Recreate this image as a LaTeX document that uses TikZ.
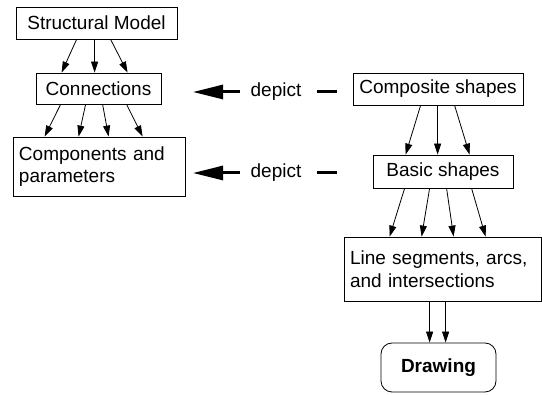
\documentclass[tikz,border=0pt]{standalone}
\usepackage{fontspec}
\setmainfont{Liberation Sans}
\usetikzlibrary{arrows.meta}
\begin{document}
\begin{tikzpicture}[x=1pt,y=-1pt,
  box/.style={draw,line width=0.8pt,inner sep=0pt,font=\fontsize{19}{22.5}\selectfont},
  arr/.style={line width=0.8pt,-{Triangle[length=11pt,width=7pt]}},
  bigarr/.style={line width=3pt,-{Triangle[length=30pt,width=14pt]}},
  lbl/.style={inner sep=0pt,font=\fontsize{19}{22}\selectfont}]
\useasboundingbox (0,0) rectangle (542,395);
\node[box,minimum width=161pt,minimum height=32pt] (sm) at (96.5,23) {Structural Model};
\node[box,minimum width=125pt,minimum height=31pt] (conn) at (98.5,88.5) {Connections};
\node[box,minimum width=172pt,minimum height=59pt,text width=160pt,align=left] (comp) at (99,166.5) {Components and\\parameters};
\node[box,minimum width=170pt,minimum height=32pt] (cs) at (438,89) {Composite shapes};
\node[box,minimum width=140pt,minimum height=33pt] (bs) at (443,171.5) {Basic shapes};
\node[box,minimum width=197pt,minimum height=64pt,text width=185pt,align=left] (ls) at (442.5,269) {Line segments, arcs,\\and intersections};
\node[box,rounded corners=11pt,minimum width=115pt,minimum height=49pt,font=\fontsize{19}{22}\selectfont\bfseries] (dr) at (438.5,367.5) {Drawing};
% depict labels
\node[lbl] (d1) at (276,92) {depict};
\node[lbl] (d2) at (276,173) {depict};
\coordinate (t1) at (193,92);
\coordinate (t2) at (193,173);
\coordinate (s1) at (240,92);
\coordinate (s2) at (240,173);
\coordinate (a1) at (317,92);
\coordinate (b1) at (337,92);
\coordinate (a2) at (317,173);
\coordinate (b2) at (337,173);
\draw[bigarr] (s1) -- (t1);
\draw[bigarr] (s2) -- (t2);
\draw[line width=3pt] (a1) -- (b1);
\draw[line width=3pt] (a2) -- (b2);
% structural -> connections
\draw[arr] ([xshift=61pt]sm.south west) -- ([xshift=26pt]conn.north west);
\draw[arr] ([xshift=79pt]sm.south west) -- ([xshift=59pt]conn.north west);
\draw[arr] ([xshift=95pt]sm.south west) -- ([xshift=92pt]conn.north west);
% connections -> components
\draw[arr] ([xshift=25pt]conn.south west) -- ([xshift=32pt]comp.north west);
\draw[arr] ([xshift=50pt]conn.south west) -- ([xshift=66pt]comp.north west);
\draw[arr] ([xshift=67pt]conn.south west) -- ([xshift=96pt]comp.north west);
\draw[arr] ([xshift=91pt]conn.south west) -- ([xshift=130pt]comp.north west);
% composite -> basic
\draw[arr] ([xshift=68pt]cs.south west) -- ([xshift=33pt]bs.north west);
\draw[arr] ([xshift=85pt]cs.south west) -- ([xshift=65pt]bs.north west);
\draw[arr] ([xshift=102pt]cs.south west) -- ([xshift=97pt]bs.north west);
% basic -> line segments
\draw[arr] ([xshift=32pt]bs.south west) -- ([xshift=46pt]ls.north west);
\draw[arr] ([xshift=57pt]bs.south west) -- ([xshift=78pt]ls.north west);
\draw[arr] ([xshift=74pt]bs.south west) -- ([xshift=110pt]ls.north west);
\draw[arr] ([xshift=99pt]bs.south west) -- ([xshift=142pt]ls.north west);
% line segments -> drawing
\draw[arr] ([xshift=86pt]ls.south west) -- ([xshift=49pt]dr.north west);
\draw[arr] ([xshift=102pt]ls.south west) -- ([xshift=65pt]dr.north west);
\end{tikzpicture}
\end{document}
